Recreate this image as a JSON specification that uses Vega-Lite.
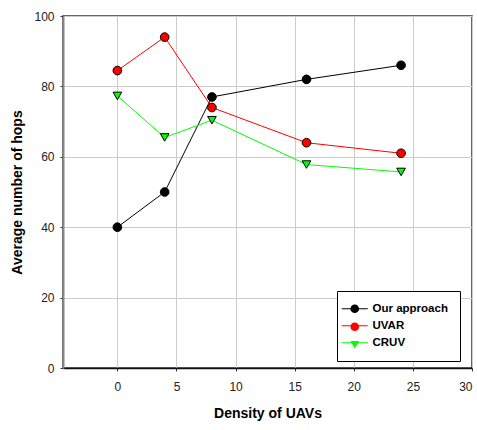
{
  "$schema": "https://vega.github.io/schema/vega-lite/v6.json",
  "width": 409,
  "height": 352,
  "autosize": "none",
  "padding": {"left": 63, "top": 16, "right": 5, "bottom": 62},
  "background": "white",
  "config": {
    "font": "Liberation Sans",
    "view": {"stroke": "#333", "strokeWidth": 1.5},
    "axis": {"gridColor": "#cccccc", "gridWidth": 1, "labelFont": "Liberation Sans", "labelFontSize": 12, "labelColor": "#222", "titleFont": "Liberation Sans", "titleFontSize": 14, "titleFontWeight": "bold", "titleColor": "#000", "tickColor": "#333", "tickSize": 3}
  },
  "data": {"values": [
    {"x": 0, "y": 40, "series": "Our approach"},
    {"x": 4, "y": 50, "series": "Our approach"},
    {"x": 8, "y": 77, "series": "Our approach"},
    {"x": 16, "y": 82, "series": "Our approach"},
    {"x": 24, "y": 86, "series": "Our approach"},
    {"x": 0, "y": 84.5, "series": "UVAR"},
    {"x": 4, "y": 94, "series": "UVAR"},
    {"x": 8, "y": 74, "series": "UVAR"},
    {"x": 16, "y": 64, "series": "UVAR"},
    {"x": 24, "y": 61, "series": "UVAR"},
    {"x": 0, "y": 77.3, "series": "CRUV"},
    {"x": 4, "y": 65.5, "series": "CRUV"},
    {"x": 8, "y": 70.4, "series": "CRUV"},
    {"x": 16, "y": 57.8, "series": "CRUV"},
    {"x": 24, "y": 55.7, "series": "CRUV"}
  ]},
  "encoding": {
    "x": {"field": "x", "type": "quantitative", "scale": {"domain": [-4.6, 30], "nice": false, "zero": false},
      "axis": {"values": [0, 5, 10, 15, 20, 25, 30], "title": "Density of UAVs", "labelPadding": 10, "domainColor": "#111", "domainWidth": 1.5, "titleX": 204.5, "titleY": 45, "titleBaseline": "middle", "titleAlign": "center"}},
    "y": {"field": "y", "type": "quantitative", "scale": {"domain": [0, 100], "nice": false},
      "axis": {"values": [0, 20, 40, 60, 80, 100], "title": "Average number of hops", "labelPadding": 6, "domainColor": "#888", "domainWidth": 2, "titleX": -46, "titleY": 176, "titleBaseline": "middle", "titleAlign": "center", "titleAngle": -90}}
  },
  "layer": [
    {
      "mark": {"type": "line", "strokeWidth": 1},
      "encoding": {
        "color": {"field": "series", "type": "nominal", "sort": ["Our approach", "UVAR", "CRUV"],
          "scale": {"range": ["#000000", "#ff0000", "#00ff00"]},
          "legend": {"title": null, "orient": "none", "legendX": 274, "legendY": 275, "symbolType": "M-3,0H3", "symbolSize": 75, "symbolStrokeWidth": 1, "labelFontSize": 11.5, "labelFontWeight": "bold", "labelColor": "#000", "labelFont": "Liberation Sans", "rowPadding": 4, "padding": 12, "fillColor": "white", "strokeColor": "#000", "labelOffset": 12}
        }
      }
    },
    {
      "mark": {"type": "point", "filled": true, "stroke": "#000", "strokeWidth": 1, "size": 75, "opacity": 1},
      "encoding": {
        "fill": {"field": "series", "type": "nominal",
          "scale": {"domain": ["Our approach", "UVAR", "CRUV"], "range": ["#000000", "#ff0000", "#00ff00"]},
          "legend": {"title": null, "orient": "none", "legendX": 274, "legendY": 275, "symbolSize": 75, "symbolStrokeColor": "#000", "symbolStrokeWidth": 1, "labelFontSize": 11.5, "labelFontWeight": "bold", "labelColor": "transparent", "labelFont": "Liberation Sans", "rowPadding": 4, "padding": 12, "labelOffset": 12}
        },
        "shape": {"field": "series", "type": "nominal",
          "scale": {"domain": ["Our approach", "UVAR", "CRUV"], "range": ["circle", "circle", "triangle-down"]},
          "legend": {"title": null, "orient": "none", "legendX": 274, "legendY": 275, "symbolSize": 75, "symbolStrokeColor": "#000", "symbolStrokeWidth": 1, "labelFontSize": 11.5, "labelFontWeight": "bold", "labelColor": "transparent", "labelFont": "Liberation Sans", "rowPadding": 4, "padding": 12, "labelOffset": 12}
        }
      }
    }
  ]
}
